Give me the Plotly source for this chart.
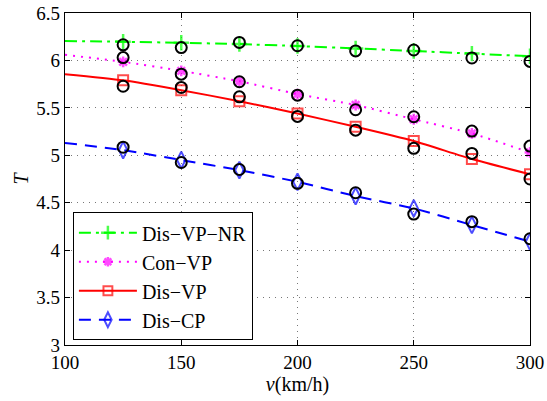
import plotly.graph_objects as go

# Data
speed = [100, 125, 150, 175, 200, 225, 250, 275, 300]
sim_speed = [125, 150, 175, 200, 225, 250, 275, 300]

dis_vp_nr = [6.205, 6.197, 6.186, 6.172, 6.152, 6.126, 6.100, 6.072, 6.044]
con_vp = [6.06, 5.985, 5.89, 5.78, 5.645, 5.53, 5.38, 5.23, 5.03]
dis_vp = [5.855, 5.79, 5.686, 5.57, 5.44, 5.30, 5.15, 4.96, 4.80]
dis_cp = [5.13, 5.055, 4.95, 4.844, 4.72, 4.57, 4.44, 4.265, 4.09]

sim_dis_vp_nr = [6.165, 6.135, 6.19, 6.155, 6.10, 6.11, 6.026, 5.99]
sim_con_vp = [6.03, 5.855, 5.775, 5.634, 5.48, 5.406, 5.255, 5.097]
sim_dis_vp = [5.728, 5.715, 5.616, 5.41, 5.265, 5.073, 5.02, 4.75]
sim_dis_cp = [5.085, 4.924, 4.85, 4.704, 4.605, 4.38, 4.30, 4.12]

names = ["Dis\u2212VP\u2212NR", "Con\u2212VP", "Dis\u2212VP", "Dis\u2212CP"]

FONT = "Liberation Serif, Times New Roman, serif"

fig = go.Figure()

styles = [
    (dis_vp_nr, "#00ff00", "12px,5px,3px,5px", "cross-thin-open", 11, 2.5),
    (con_vp, "#ff00ff", "2px,6px", "asterisk-open", 9, 2.5),
    (dis_vp, "#ff0000", "solid", "square-open", 10, 2),
    (dis_cp, "#0000ff", "12px,8px", "diamond-tall-open", 12, 2),
]

for (vals, color, dash, sym, msize, mlw), name in zip(styles, names):
    sizes = [0] + [msize] * (len(speed) - 1)
    fig.add_trace(go.Scatter(
        x=speed, y=vals, name=name, mode="lines+markers",
        line=dict(color=color, width=2, dash=dash, shape="spline", smoothing=0.6),
        marker=dict(symbol=sym, size=sizes, color=color, line=dict(color=color, width=mlw)),
    ))

for sim in [sim_dis_vp_nr, sim_con_vp, sim_dis_vp, sim_dis_cp]:
    fig.add_trace(go.Scatter(
        x=sim_speed, y=sim, mode="markers", showlegend=False,
        marker=dict(symbol="circle-open", size=11, color="black", line=dict(color="black", width=2)),
    ))

axis_common = dict(
    showline=True, linecolor="black", linewidth=1.2, mirror="allticks",
    ticks="inside", ticklen=5, tickcolor="black", tickwidth=1,
    showgrid=True, gridcolor="#777777", griddash="1px,5px", gridwidth=1,
    zeroline=False, automargin=False,
    tickfont=dict(family=FONT, size=19, color="black"),
)

fig.update_xaxes(range=[100, 300], dtick=50, tick0=100,
                 title=dict(text="<i>v</i>(km/h)", font=dict(family=FONT, size=20, color="black"), standoff=4),
                 **axis_common)
fig.update_yaxes(range=[3, 6.5], dtick=0.5, tick0=3,
                 title=dict(text="<i>T</i>", font=dict(family=FONT, size=20, color="black"), standoff=2),
                 **axis_common)

fig.update_layout(
    width=547, height=401,
    margin=dict(l=65, r=17, t=13, b=56),
    plot_bgcolor="white", paper_bgcolor="white",
    font=dict(family=FONT, color="black"),
    legend=dict(
        x=0.017, y=0.40, xanchor="left", yanchor="top",
        bgcolor="white", bordercolor="black", borderwidth=1,
        font=dict(family=FONT, size=20, color="black"),
        itemwidth=58, tracegroupgap=0,
    ),
)

fig.write_html("out.html")
